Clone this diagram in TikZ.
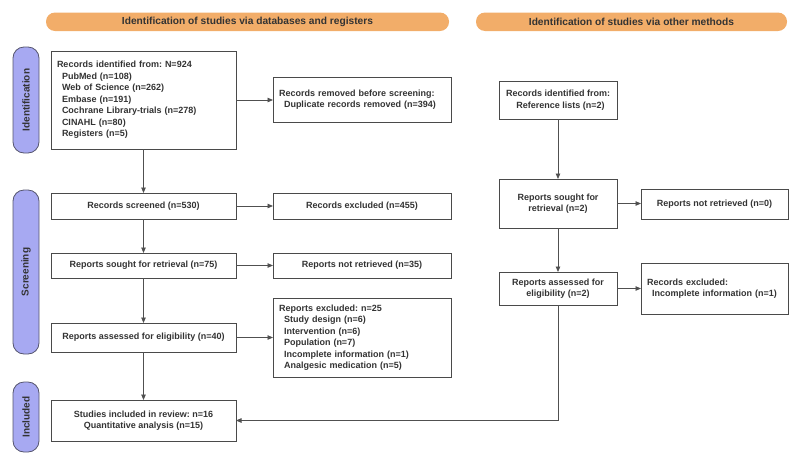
\documentclass[tikz,border=0pt]{standalone}
\usepackage{fontspec}
\setmainfont{Liberation Sans}
\usetikzlibrary{arrows.meta}
\definecolor{txt}{HTML}{333333}
\definecolor{bordercol}{HTML}{4A4A4A}
\definecolor{arrcol}{HTML}{505050}
\definecolor{bannerfill}{HTML}{F2AD69}
\definecolor{barfill}{HTML}{A7A9F2}
\definecolor{barborder}{HTML}{55556E}
\tikzset{
  fnt/.style={font=\frenchspacing\bfseries\fontsize{9}{11.5}\selectfont, text=txt},
  box/.style={fnt, draw=bordercol, line width=0.8pt, fill=white, inner sep=0pt, outer sep=0pt, anchor=north west, align=center},
  lbox/.style={box, align=left, inner xsep=6pt},
  banner/.style={font=\frenchspacing\bfseries\fontsize{10.2}{12}\selectfont, text=txt, fill=bannerfill, rounded corners=9pt, inner sep=0pt, minimum height=18.5pt},
  sidebar/.style={font=\frenchspacing\bfseries\fontsize{10}{12}\selectfont, text=txt, draw=barborder, line width=0.8pt, fill=barfill, rounded corners=11pt, inner sep=0pt, minimum height=26pt, rotate=90},
  arr/.style={draw=arrcol, line width=0.8pt, -{Triangle[length=5.5pt,width=4.5pt]}},
}
\newcommand{\ind}{\hspace*{5pt}}
\begin{document}
\begin{tikzpicture}[x=1pt,y=-1pt]
\useasboundingbox (0,0) rectangle (800,464);
% banners
\node[banner, minimum width=403pt] (b1) at (247.5,21.75) {Identification of studies via databases and registers};
\node[banner, minimum width=311pt] (b2) at (631.5,21.75) {Identification of studies via other methods};
% side bars
\node[sidebar, minimum width=106pt] (s1) at (26,100) {Identification};
\node[sidebar, minimum width=164pt] (s2) at (26,272) {Screening};
\node[sidebar, minimum width=70pt] (s3) at (26,417) {Included};
% left column
\node[lbox, minimum width=185pt, text width=173pt, minimum height=98pt] (rec) at (51,51)
 {Records identified from: N=924\\
  \ind PubMed (n=108)\\
  \ind Web of Science (n=262)\\
  \ind Embase (n=191)\\
  \ind Cochrane Library-trials (n=278)\\
  \ind CINAHL (n=80)\\
  \ind Registers (n=5)};
\node[lbox, minimum width=178pt, text width=166pt, minimum height=45pt] (rem) at (273,77)
 {Records removed before screening:\\ \ind Duplicate records removed (n=394)};
\node[box, minimum width=185pt, minimum height=26pt] (scr) at (51,193) {Records screened (n=530)};
\node[box, minimum width=178pt, minimum height=26pt] (exc) at (273,193) {Records excluded (n=455)};
\node[box, minimum width=185pt, minimum height=25pt] (sou) at (51,253) {Reports sought for retrieval (n=75)};
\node[box, minimum width=178pt, minimum height=25pt] (nre) at (273,253) {Reports not retrieved (n=35)};
\node[box, minimum width=185pt, minimum height=29pt] (ass) at (51,323) {Reports assessed for eligibility (n=40)};
\node[lbox, minimum width=178pt, text width=166pt, minimum height=79pt] (rex) at (273,298)
 {Reports excluded: n=25\\
  \ind Study design (n=6)\\
  \ind Intervention (n=6)\\
  \ind Population (n=7)\\
  \ind Incomplete information (n=1)\\
  \ind Analgesic medication (n=5)};
\node[box, minimum width=185pt, minimum height=41pt] (inc) at (51,400) {Studies included in review: n=16\\ Quantitative analysis (n=15)};
% right column
\node[box, minimum width=118pt, minimum height=38pt] (rec2) at (499,81) {Records identified from:\\ \ind Reference lists (n=2)};
\node[box, minimum width=118pt, minimum height=49pt] (sou2) at (499,179) {Reports sought for\\ retrieval (n=2)};
\node[box, minimum width=147pt, minimum height=30pt] (nre2) at (641,189) {Reports not retrieved (n=0)};
\node[box, minimum width=118pt, minimum height=33pt] (ass2) at (499,272) {Reports assessed for\\ eligibility (n=2)};
\node[lbox, minimum width=147pt, text width=135pt, minimum height=51pt] (exc2) at (641,263)
 {Records excluded:\\ \ind Incomplete information (n=1)};
% connectors left
\draw[arr] (rec.south) -- (scr.north);
\draw[arr] (scr.south) -- (sou.north);
\draw[arr] (sou.south) -- (ass.north);
\draw[arr] (ass.south) -- (inc.north);
\draw[arr] (rec.east) -- (rec.east -| rem.west);
\draw[arr] (scr.east) -- (exc.west);
\draw[arr] (sou.east) -- (nre.west);
\draw[arr] (ass.east) -- (ass.east -| rex.west);
% connectors right
\draw[arr] (rec2.south) -- (sou2.north);
\draw[arr] (sou2.south) -- (ass2.north);
\draw[arr] (sou2.east) -- (sou2.east -| nre2.west);
\draw[arr] (ass2.east) -- (ass2.east -| exc2.west);
\draw[arr] (ass2.south) |- (inc.east);
\end{tikzpicture}
\end{document}
